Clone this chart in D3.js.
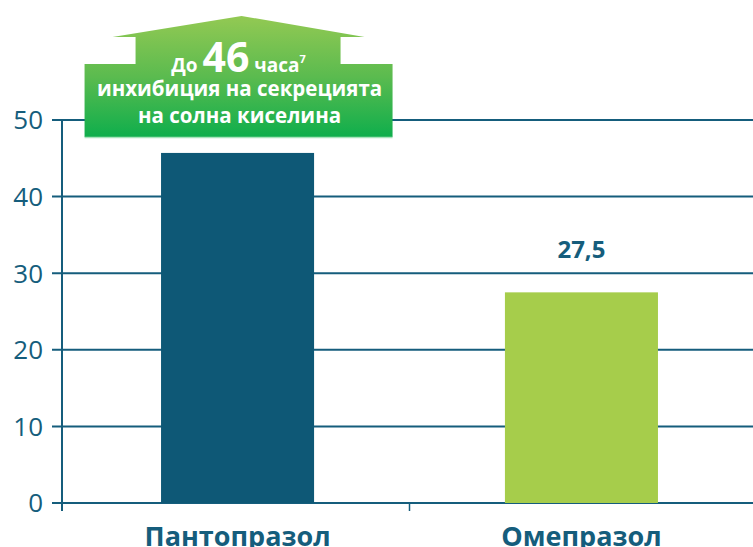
<!DOCTYPE html>
<html>
<head>
  <meta charset="utf-8">
  <title>Пантопразол / Омепразол</title>
  <script src="https://cdn.jsdelivr.net/npm/d3@7"></script>
  <style>
    body { margin: 0; background: #fff; }
    text { font-family: "Open Sans", sans-serif; }
  </style>
</head>
<body>
  <script>
    const width = 753, height = 547
    const categories = ['Пантопразол', 'Омепразол']
    const values = [45.7, 27.5]
    const barColors = ['#0e5876', '#a6cd4b']
    const yTicks = [0, 10, 20, 30, 40, 50]
    const valueLabels = [null, '27,5']

    const ink = '#155d7c'
    const margin = { left: 62, top: 120, bottom: 44 }

    const svg = d3.select('body').append('svg')
      .attr('width', width)
      .attr('height', height)

    const yScale = d3.scaleLinear()
      .domain([0, 50])
      .range([height - margin.bottom, margin.top])

    const xScale = d3.scaleBand()
      .domain(categories)
      .range([margin.left, margin.left + 695])
      .paddingInner(0.555)
      .paddingOuter(0.288)

    // grid lines
    svg.append('g')
      .selectAll('line')
      .data(yTicks)
      .enter()
      .append('line')
      .attr('x1', margin.left - 10)
      .attr('x2', width)
      .attr('y1', d => yScale(d))
      .attr('y2', d => yScale(d))
      .attr('stroke', ink)
      .attr('stroke-width', 2)

    // y axis line
    svg.append('line')
      .attr('x1', margin.left).attr('x2', margin.left)
      .attr('y1', yScale(50)).attr('y2', yScale(0) + 8)
      .attr('stroke', ink).attr('stroke-width', 2)

    // category separator tick
    const sepX = xScale(categories[1]) - xScale.step() * xScale.paddingInner() / 2
    svg.append('line')
      .attr('x1', sepX).attr('x2', sepX)
      .attr('y1', yScale(0)).attr('y2', yScale(0) + 8)
      .attr('stroke', ink).attr('stroke-width', 1.5)

    svg.append('g')
      .selectAll('text')
      .data(yTicks)
      .enter()
      .append('text')
      .attr('x', margin.left - 19)
      .attr('y', d => yScale(d))
      .attr('dy', '0.36em')
      .attr('text-anchor', 'end')
      .attr('font-size', 26)
      .attr('fill', ink)
      .text(d => d)

    // bars
    svg.append('g')
      .selectAll('rect')
      .data(values)
      .enter()
      .append('rect')
      .attr('x', (d, i) => xScale(categories[i]))
      .attr('y', d => yScale(d))
      .attr('width', xScale.bandwidth())
      .attr('height', d => yScale(0) - yScale(d))
      .attr('fill', (d, i) => barColors[i])

    svg.append('g')
      .selectAll('text')
      .data(values.map((v, i) => ({ v, i, label: valueLabels[i] })).filter(d => d.label))
      .enter()
      .append('text')
      .attr('x', d => xScale(categories[d.i]) + xScale.bandwidth() / 2)
      .attr('y', d => yScale(d.v) - 34)
      .attr('text-anchor', 'middle')
      .attr('font-size', 24)
      .attr('font-weight', 700)
      .attr('fill', ink)
      .text(d => d.label)

    // category labels
    svg.append('g')
      .selectAll('text')
      .data(categories)
      .enter()
      .append('text')
      .attr('x', d => xScale(d) + xScale.bandwidth() / 2)
      .attr('y', height - 1)
      .attr('text-anchor', 'middle')
      .attr('font-size', 27)
      .attr('font-weight', 700)
      .attr('fill', ink)
      .text(d => d)

    // callout arrow above the first bar
    const defs = svg.append('defs')
    const grad = defs.append('linearGradient')
      .attr('id', 'calloutGrad')
      .attr('x1', 0).attr('y1', 0).attr('x2', 0).attr('y2', 1)
    grad.append('stop').attr('offset', '0%').attr('stop-color', '#93c953')
    grad.append('stop').attr('offset', '50%').attr('stop-color', '#5bbb4f')
    grad.append('stop').attr('offset', '100%').attr('stop-color', '#0fae4c')

    const cx = xScale(categories[0]) + xScale.bandwidth() / 2
    const arrow = [
      [cx + 4, 16], [cx + 127, 37], [cx + 103, 37], [cx + 103, 64],
      [cx + 155, 64], [cx + 155, 137], [cx - 153, 137], [cx - 153, 64],
      [cx - 102, 64], [cx - 102, 37], [cx - 125, 37]
    ]
    svg.append('path')
      .attr('d', d3.line()(arrow) + 'Z')
      .attr('fill', 'url(#calloutGrad)')
    svg.append('line')
      .attr('x1', cx - 153).attr('x2', cx + 155)
      .attr('y1', 137.5).attr('y2', 137.5)
      .attr('stroke', '#a8e3bb').attr('stroke-width', 1.5)

    const t1 = svg.append('text')
      .attr('x', cx + 1)
      .attr('y', 72)
      .attr('text-anchor', 'middle')
      .attr('fill', '#fff')
      .attr('font-weight', 700)
    t1.append('tspan').attr('font-size', 19).text('До ')
    t1.append('tspan').attr('font-size', 41).text('46')
    t1.append('tspan').attr('font-size', 19).text(' часа')
    t1.append('tspan').attr('font-size', 11).attr('dy', -9).text('7')

    svg.append('text')
      .attr('x', cx + 2).attr('y', 96)
      .attr('text-anchor', 'middle')
      .attr('fill', '#fff').attr('font-weight', 700).attr('font-size', 20.5)
      .text('инхибиция на секрецията')
    svg.append('text')
      .attr('x', cx + 2).attr('y', 123)
      .attr('text-anchor', 'middle')
      .attr('fill', '#fff').attr('font-weight', 700).attr('font-size', 20.5)
      .text('на солна киселина')
  </script>
</body>
</html>
